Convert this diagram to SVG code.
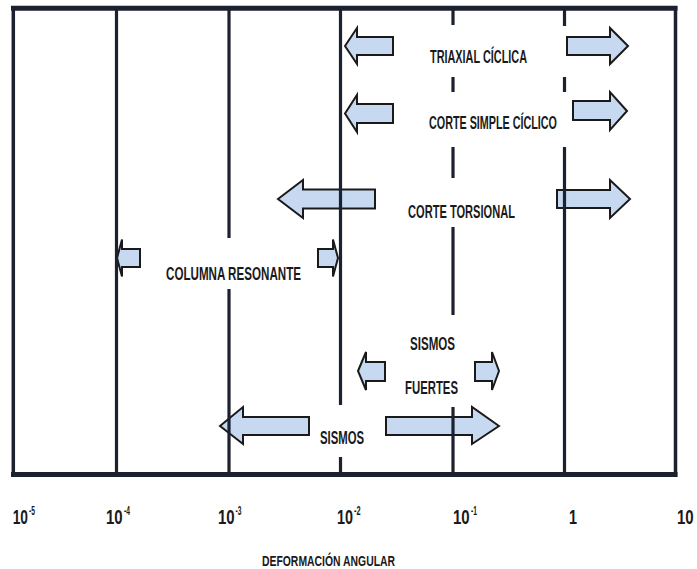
<svg xmlns="http://www.w3.org/2000/svg" width="697" height="569" viewBox="0 0 697 569">
<style>
.lbl{font-family:"Liberation Sans",Arial,sans-serif;font-weight:bold;fill:#1a1a1a;font-size:18px}
.ax{font-family:"Liberation Sans",Arial,sans-serif;font-weight:bold;fill:#1a1a1a;font-size:20px}
.sup{font-family:"Liberation Sans",Arial,sans-serif;font-weight:bold;fill:#1a1a1a;font-size:12px}
.arr{fill:#c6d9f1;stroke:#1a1a1a;stroke-width:2;stroke-linejoin:miter}
.vl{stroke:#1c2130;stroke-width:3.2;fill:none}
</style>
<rect width="697" height="569" fill="#ffffff"/>
<g id="arrows">
<polygon class="arr" points="345,46 357,28 357,37 393,37 393,55 357,55 357,64"/>
<polygon class="arr" points="628,46 610,28 610,37 567,37 567,55 610,55 610,64"/>
<polygon class="arr" points="345,113.5 357,95 357,104 393,104 393,123 357,123 357,132"/>
<polygon class="arr" points="627,111 610,92 610,101 573,101 573,120 610,120 610,130"/>
<polygon class="arr" points="278,199 303,180 303,189.5 375,189.5 375,208.5 303,208.5 303,218"/>
<polygon class="arr" points="630,199 610,180 610,190 557,190 557,208 610,208 610,218"/>
<polygon class="arr" points="117,258 122,239.5 122,249 140,249 140,267 122,267 122,276.5"/>
<polygon class="arr" points="338,258 333,239.5 333,249 318,249 318,267 333,267 333,276.5"/>
<polygon class="arr" points="358,371 366,352 366,362 385,362 385,381 366,381 366,390"/>
<polygon class="arr" points="499,371 492,352 492,362 475,362 475,381 492,381 492,390"/>
<polygon class="arr" points="220,426 243,407 243,417 309,417 309,435 243,435 243,444"/>
<polygon class="arr" points="499,426 472,407 472,417 386,417 386,435 472,435 472,444"/>
</g>
<g id="grid">
<line class="vl" x1="116.5" y1="8" x2="116.5" y2="474"/>
<line class="vl" x1="229" y1="8" x2="229" y2="238"/>
<line class="vl" x1="229" y1="289" x2="229" y2="474"/>
<line class="vl" x1="340.5" y1="8" x2="340.5" y2="405"/>
<line class="vl" x1="340.5" y1="457" x2="340.5" y2="474"/>
<line class="vl" x1="453" y1="8" x2="453" y2="25"/>
<line class="vl" x1="453" y1="77" x2="453" y2="92"/>
<line class="vl" x1="453" y1="147" x2="453" y2="178"/>
<line class="vl" x1="453" y1="227" x2="453" y2="315"/>
<line class="vl" x1="453" y1="407" x2="453" y2="474"/>
<line class="vl" x1="564.5" y1="8" x2="564.5" y2="26"/>
<line class="vl" x1="564.5" y1="77" x2="564.5" y2="92"/>
<line class="vl" x1="564.5" y1="147" x2="564.5" y2="474"/>
</g>
<g id="frame" stroke="#1c2130">
<line x1="11" y1="8.2" x2="677.5" y2="8.2" stroke-width="5"/>
<line x1="11" y1="474.5" x2="677.5" y2="474.5" stroke-width="5"/>
<line x1="13.3" y1="6" x2="13.3" y2="477" stroke-width="3.5"/>
<line x1="675.5" y1="6" x2="675.5" y2="477" stroke-width="3.5"/>
</g>
<g id="triaxial"><text class="lbl" x="430" y="63" textLength="97" lengthAdjust="spacingAndGlyphs">TRIAXIAL CÍCLICA</text></g>
<g id="corte-simple"><text class="lbl" x="429" y="129" textLength="128" lengthAdjust="spacingAndGlyphs">CORTE SIMPLE CÍCLICO</text></g>
<g id="corte-torsional"><text class="lbl" x="408" y="218" textLength="107" lengthAdjust="spacingAndGlyphs">CORTE TORSIONAL</text></g>
<g id="columna"><text class="lbl" x="166" y="280" textLength="135" lengthAdjust="spacingAndGlyphs">COLUMNA RESONANTE</text></g>
<g id="sismos-fuertes">
<text class="lbl" x="410" y="350" textLength="45" lengthAdjust="spacingAndGlyphs">SISMOS</text>
<text class="lbl" x="405" y="394" textLength="53" lengthAdjust="spacingAndGlyphs">FUERTES</text>
</g>
<g id="sismos"><text class="lbl" x="320" y="444" textLength="44" lengthAdjust="spacingAndGlyphs">SISMOS</text></g>
<g id="axis">
<text class="ax" transform="translate(12.7,524) scale(0.69,1)">10</text>
<text class="sup" transform="translate(29,515) scale(0.56,1)">-5</text>
<text class="ax" transform="translate(106,524) scale(0.75,1)">10</text>
<text class="sup" transform="translate(124,515) scale(0.56,1)">-4</text>
<text class="ax" transform="translate(218,524) scale(0.75,1)">10</text>
<text class="sup" transform="translate(235.5,515) scale(0.56,1)">-3</text>
<text class="ax" transform="translate(337,524) scale(0.72,1)">10</text>
<text class="sup" transform="translate(354,515) scale(0.62,1)">-2</text>
<text class="ax" transform="translate(453,524) scale(0.75,1)">10</text>
<text class="sup" transform="translate(471,515) scale(0.56,1)">-1</text>
<text class="ax" transform="translate(569,524) scale(0.72,1)">1</text>
<text class="ax" transform="translate(677,524) scale(0.75,1)">10</text>
<text class="lbl" x="262" y="566" style="font-size:15px" textLength="133" lengthAdjust="spacingAndGlyphs">DEFORMACIÓN ANGULAR</text>
</g>
</svg>
